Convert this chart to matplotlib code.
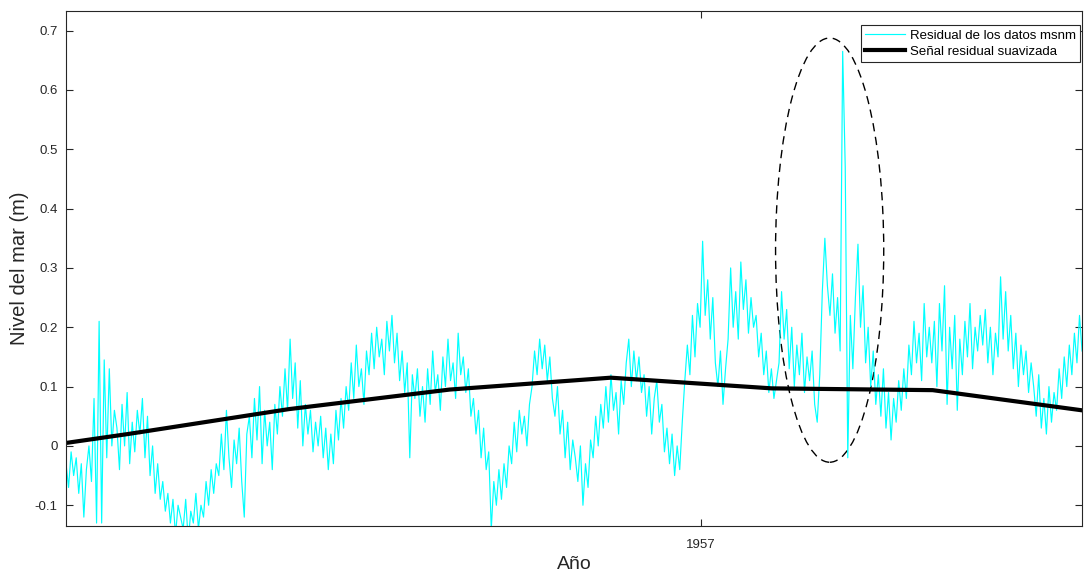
import matplotlib
matplotlib.use("Agg")
import matplotlib.pyplot as plt
from matplotlib.patches import Ellipse
import numpy as np

plt.rcParams['font.family'] = ['Liberation Sans', 'DejaVu Sans']

# time span of the record (fractional years)
t_start = 1956.014
t_end = 1957.592

# residual sea level (m) in 20 blocks of 20 samples
resid = [
    -0.03, -0.07, -0.01, -0.05, -0.02, -0.08, -0.03, -0.12, -0.04, 0.0,
    -0.06, 0.08, -0.13, 0.21, -0.13, 0.145, -0.02, 0.13, 0.0, 0.06,
    0.03, -0.04, 0.07, 0.0, 0.09, -0.03, 0.04, -0.01, 0.06, 0.02,
    0.08, -0.02, 0.05, -0.05, 0.0, -0.08, -0.03, -0.09, -0.06, -0.11,
    -0.08, -0.13, -0.09, -0.15, -0.1, -0.12, -0.14, -0.09, -0.16, -0.11,
    -0.13, -0.08, -0.14, -0.1, -0.12, -0.06, -0.1, -0.04, -0.08, -0.03,
    -0.05, 0.02, -0.04, 0.06, -0.02, -0.07, 0.01, -0.03, 0.03, -0.06,
    -0.12, 0.02, 0.05, -0.02, 0.08, 0.01, 0.1, -0.03, 0.06, 0.0,
    0.04, -0.04, 0.07, 0.02, 0.1, 0.05, 0.13, 0.06, 0.18, 0.08,
    0.14, 0.03, 0.11, 0.0, 0.07, 0.02, 0.06, -0.01, 0.04, 0.0,
    0.05, -0.02, 0.03, -0.04, 0.02, -0.03, 0.06, 0.01, 0.08, 0.03,
    0.1, 0.06, 0.14, 0.08, 0.17, 0.1, 0.13, 0.07, 0.16, 0.12,
    0.19, 0.13, 0.2, 0.15, 0.18, 0.12, 0.21, 0.16, 0.22, 0.14,
    0.19, 0.11, 0.16, 0.09, 0.14, -0.02, 0.12, 0.08, 0.13, 0.05,
    0.1, 0.04, 0.13, 0.07, 0.16, 0.09, 0.12, 0.06, 0.15, 0.1,
    0.18, 0.11, 0.14, 0.08, 0.19, 0.12, 0.15, 0.09, 0.13, 0.05,
    0.08, 0.02, 0.06, -0.02, 0.03, -0.04, -0.01, -0.14, -0.06, -0.1,
    -0.04, -0.09, -0.03, -0.07, 0.0, -0.03, 0.04, -0.01, 0.06, 0.02,
    0.05, 0.0, 0.07, 0.1, 0.16, 0.12, 0.18, 0.13, 0.17, 0.11,
    0.15, 0.08, 0.05, 0.1, 0.02, 0.06, -0.02, 0.04, -0.04, 0.01,
    -0.02, -0.06, 0.0, -0.1, -0.03, -0.07, 0.01, -0.02, 0.05, 0.0,
    0.07, 0.03, 0.1, 0.04, 0.12, 0.06, 0.09, 0.02, 0.11, 0.07,
    0.14, 0.18, 0.1, 0.16, 0.11, 0.15, 0.09, 0.12, 0.05, 0.1,
    0.02, 0.08, 0.11, 0.04, 0.07, -0.01, 0.03, -0.03, 0.02, -0.05,
    0.0, -0.04, 0.04, 0.11, 0.17, 0.12, 0.22, 0.15, 0.24, 0.2,
    0.345, 0.22, 0.28, 0.18, 0.25, 0.14, 0.1, 0.16, 0.07, 0.13,
    0.18, 0.3, 0.2, 0.26, 0.18, 0.31, 0.23, 0.28, 0.19, 0.25,
    0.2, 0.22, 0.15, 0.19, 0.12, 0.16, 0.09, 0.13, 0.08, 0.11,
    0.14, 0.26, 0.18, 0.23, 0.13, 0.2, 0.1, 0.17, 0.12, 0.19,
    0.09, 0.15, 0.11, 0.16, 0.07, 0.04, 0.12, 0.26, 0.35, 0.27,
    0.22, 0.29, 0.19, 0.25, 0.16, 0.665, 0.47, -0.02, 0.22, 0.13,
    0.25, 0.34, 0.2, 0.27, 0.14, 0.2, 0.1, 0.16, 0.07, 0.12,
    0.05, 0.13, 0.03, 0.09, 0.01, 0.08, 0.04, 0.11, 0.06, 0.13,
    0.08, 0.17, 0.12, 0.21, 0.14, 0.19, 0.11, 0.24, 0.15, 0.2,
    0.14, 0.21, 0.1, 0.24, 0.16, 0.27, 0.07, 0.2, 0.13, 0.22,
    0.06, 0.18, 0.12, 0.21, 0.15, 0.24, 0.13, 0.2, 0.16, 0.22,
    0.17, 0.23, 0.14, 0.2, 0.12, 0.19, 0.15, 0.285, 0.18, 0.26,
    0.16, 0.22, 0.13, 0.19, 0.1, 0.17, 0.12, 0.16, 0.09, 0.14,
    0.1, 0.05, 0.12, 0.03, 0.08, 0.02, 0.1, 0.04, 0.09, 0.06,
    0.13, 0.08, 0.15, 0.1, 0.17, 0.12, 0.19, 0.14, 0.22, 0.16,
]

# smoothed residual signal (knots)
smooth_t = [1956.014, 1956.110, 1956.360, 1956.610, 1956.860, 1957.110, 1957.360, 1957.592]
smooth_v = [0.005, 0.020, 0.062, 0.095, 0.115, 0.097, 0.094, 0.060]

yticks = [-0.1, 0, 0.1, 0.2, 0.3, 0.4, 0.5, 0.6, 0.7]
ytick_labels = ['-0.1', '0', '0.1', '0.2', '0.3', '0.4', '0.5', '0.6', '0.7']
xticks = [1957]
xtick_labels = ['1957']

# dashed ellipse around the anomaly: centre, width (years), height (m)
ell_center = (1957.2, 0.330)
ell_width = 0.168
ell_height = 0.715

t = np.linspace(t_start, t_end, len(resid))

fig = plt.figure(figsize=(10.84, 5.74), dpi=100)
ax = fig.add_axes([0.0609, 0.0836, 0.9373, 0.8972])

ax.plot(t, resid, color='#00FFFF', lw=0.85, label='Residual de los datos msnm')
ax.plot(smooth_t, smooth_v, color='black', lw=3, label='Señal residual suavizada')

ax.add_patch(Ellipse(ell_center, ell_width, ell_height, fill=False,
                     edgecolor='black', ls=(0, (6, 4)), lw=1))

ax.set_xlim(t_start, t_end)
ax.set_ylim(-0.135, 0.733)
ax.set_yticks(yticks)
ax.set_yticklabels(ytick_labels)
ax.set_xticks(xticks)
ax.set_xticklabels(xtick_labels)

ax.tick_params(direction='in', length=5, width=0.8, labelsize=9.5,
               colors='#262626', top=True, right=True, pad=6)
ax.tick_params(axis='x', pad=9)
for s in ax.spines.values():
    s.set_color('#262626')
    s.set_linewidth(0.8)

ax.set_xlabel('Año', fontsize=14, color='#262626', labelpad=4)
ax.set_ylabel('Nivel del mar (m)', fontsize=14.5, color='#262626', labelpad=4)

leg = ax.legend(loc='upper right', bbox_to_anchor=(0.998, 0.972),
                fontsize=9.5, frameon=True, fancybox=False,
                borderaxespad=0, handlelength=3.0, borderpad=0.3,
                labelspacing=0.3, handletextpad=0.4)
leg.get_frame().set_edgecolor('#262626')
leg.get_frame().set_linewidth(0.8)
leg.get_frame().set_alpha(1)

fig.savefig('out.png', dpi=100)
plt.close(fig)
